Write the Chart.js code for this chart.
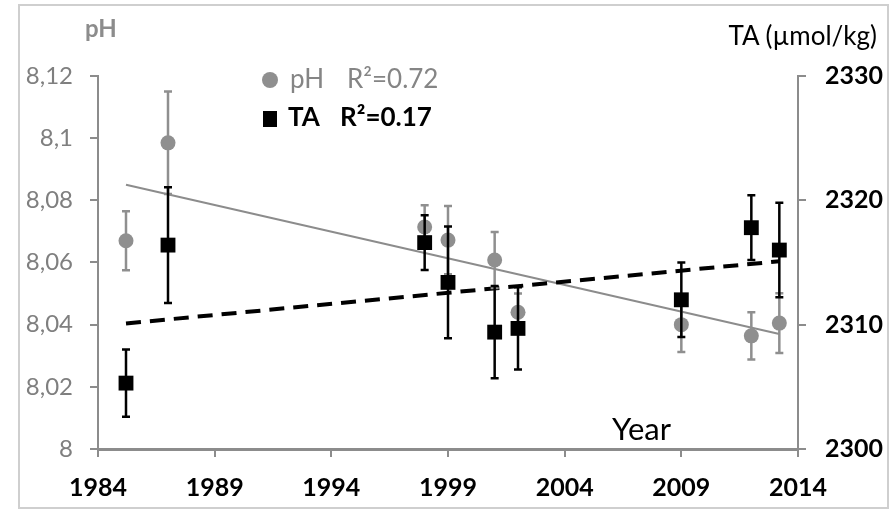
<!DOCTYPE html>
<html>
<head>
<meta charset="utf-8">
<script src="https://cdn.jsdelivr.net/npm/chart.js@4.4.1/dist/chart.umd.min.js"></script>
<style>
    html, body { margin: 0; padding: 0; background: #fff; }
    #wrap { position: relative; width: 893px; height: 511px; overflow: hidden; font-family: Lato, sans-serif; }
    #frame { position: absolute; left: 18px; top: 4px; width: 867px; height: 501px; border: 2px solid #cfcfcf; }
    canvas { position: absolute; left: 0; top: 0; }
    .lbl { position: absolute; line-height: 1; white-space: nowrap; }
    .mark { position: absolute; }
</style>
</head>
<body>
<div id="wrap">
    <div id="frame"></div>
    <canvas id="chart" width="893" height="511"></canvas>
    <div class="lbl" style="left:85px; top:16px; font-size:24px; font-weight:bold; color:#8c8c8c;">pH</div>
    <div class="lbl" style="right:16px; top:22px; font-size:26px; color:#000;">TA (µmol/kg)</div>
    <div class="mark" style="left:262px; top:72px; width:16px; height:16px; border-radius:50%; background:#8f8f8f;"></div>
    <div class="lbl" style="left:290px; top:65px; font-size:26px; color:#858585;">pH</div>
    <div class="lbl" style="left:347px; top:65px; font-size:26px; color:#858585;">R²=0.72</div>
    <div class="mark" style="left:263px; top:111px; width:14px; height:16px; background:#000;"></div>
    <div class="lbl" style="left:288px; top:103px; font-size:26px; font-weight:bold; color:#000;">TA</div>
    <div class="lbl" style="left:340px; top:103px; font-size:26px; font-weight:bold; color:#000;">R²=0.17</div>
    <div class="lbl" style="left:612px; top:413px; font-size:31px; color:#000;">Year</div>
</div>
<script>
// sampling years (x)
const years = [1985.2, 1987, 1998, 1999, 2001, 2002, 2009, 2012, 2013.2];

// pH, left axis
const phValues = [8.067, 8.0985, 8.0714, 8.0672, 8.0608, 8.044, 8.040, 8.0364, 8.0405];
const phErrors = [0.0095, 0.0165, 0.007, 0.011, 0.009, 0.006, 0.0088, 0.0076, 0.0096];

// total alkalinity, right axis
const taValues = [2305.3, 2316.4, 2316.6, 2313.4, 2309.4, 2309.7, 2312.0, 2317.8, 2316.0];
const taErrors = [2.7, 4.65, 2.2, 4.5, 3.7, 3.3, 3.0, 2.6, 3.8];

// regression line end points
const trendYears = [1985.2, 2013.2];
const phTrend = [8.085, 8.037];
const taTrend = [2310.1, 2315.1];

// axis ticks
const yearTicks = [1984, 1989, 1994, 1999, 2004, 2009, 2014];
const phTicks = [8, 8.02, 8.04, 8.06, 8.08, 8.1, 8.12];
const taTicks = [2300, 2310, 2320, 2330];

const COLORS = {
    grey: '#8f8f8f',
    axis: '#8c8c8c',
    ink: '#000000',
};

const toPoints = (xs, ys) => xs.map((x, i) => ({ x, y: ys[i] }));

const errorBars = {
    id: 'errorBars',
    beforeDatasetDraw(chart, args) {
        const ds = chart.data.datasets[args.index];
        if (!ds.errors) {
            return;
        }
        const { ctx } = chart;
        const scale = chart.scales[ds.yAxisID];
        ctx.save();
        ctx.strokeStyle = ds.errorColor;
        ctx.lineWidth = 2.5;
        args.meta.data.forEach((pt, i) => {
            const v = ds.data[i].y;
            const top = scale.getPixelForValue(v + ds.errors[i]);
            const bottom = scale.getPixelForValue(v - ds.errors[i]);
            ctx.beginPath();
            ctx.moveTo(pt.x, top);
            ctx.lineTo(pt.x, bottom);
            ctx.moveTo(pt.x - 4, top);
            ctx.lineTo(pt.x + 4, top);
            ctx.moveTo(pt.x - 4, bottom);
            ctx.lineTo(pt.x + 4, bottom);
            ctx.stroke();
        });
        ctx.restore();
    },
};

const tickFont = { family: 'Lato', size: 25, weight: 'bold' };

new Chart(document.getElementById('chart'), {
    type: 'scatter',
    data: {
        datasets: [
            {
                label: 'TA',
                data: toPoints(years, taValues),
                errors: taErrors,
                errorColor: COLORS.ink,
                yAxisID: 'y1',
                pointStyle: 'rect',
                radius: 10.5,
                backgroundColor: COLORS.ink,
                borderWidth: 0,
            },
            {
                label: 'pH',
                data: toPoints(years, phValues),
                errors: phErrors,
                errorColor: COLORS.grey,
                yAxisID: 'y',
                pointStyle: 'circle',
                radius: 7.5,
                backgroundColor: COLORS.grey,
                borderWidth: 0,
            },
            {
                type: 'line',
                label: 'TA trend',
                data: toPoints(trendYears, taTrend),
                yAxisID: 'y1',
                borderColor: COLORS.ink,
                borderWidth: 4,
                borderDash: [15, 9],
                pointRadius: 0,
            },
            {
                type: 'line',
                label: 'pH trend',
                data: toPoints(trendYears, phTrend),
                yAxisID: 'y',
                borderColor: COLORS.axis,
                borderWidth: 2,
                pointRadius: 0,
            },
        ],
    },
    options: {
        responsive: false,
        animation: false,
        layout: { padding: { top: 76, left: 0, right: 0, bottom: 0 } },
        plugins: {
            legend: { display: false },
            tooltip: { enabled: false },
        },
        scales: {
            x: {
                type: 'linear',
                min: yearTicks[0],
                max: yearTicks[yearTicks.length - 1],
                afterFit(scale) { scale.height = 62; },
                afterBuildTicks(scale) { scale.ticks = yearTicks.map((value) => ({ value })); },
                ticks: {
                    font: tickFont,
                    color: COLORS.ink,
                    padding: 16,
                    maxRotation: 0,
                    callback: (v) => String(v),
                },
                grid: { drawOnChartArea: false, tickLength: 8, color: COLORS.axis, lineWidth: 2 },
                border: { color: COLORS.axis, width: 3 },
            },
            y: {
                position: 'left',
                min: phTicks[0],
                max: phTicks[phTicks.length - 1],
                afterFit(scale) { scale.width = 98; },
                afterBuildTicks(scale) { scale.ticks = phTicks.map((value) => ({ value })); },
                ticks: {
                    font: { family: 'Lato', size: 24 },
                    color: '#7f7f7f',
                    padding: 17,
                    callback: (v) => String(Math.round(v * 100) / 100).replace('.', ','),
                },
                grid: { drawOnChartArea: false, tickLength: 8, color: COLORS.axis, lineWidth: 2 },
                border: { color: COLORS.axis, width: 2 },
            },
            y1: {
                position: 'right',
                min: taTicks[0],
                max: taTicks[taTicks.length - 1],
                afterFit(scale) { scale.width = 95; },
                afterBuildTicks(scale) { scale.ticks = taTicks.map((value) => ({ value })); },
                ticks: {
                    font: tickFont,
                    color: COLORS.ink,
                    padding: 19,
                    callback: (v) => String(v),
                },
                grid: { drawOnChartArea: false, tickLength: 8, color: COLORS.axis, lineWidth: 2 },
                border: { color: COLORS.axis, width: 2 },
            },
        },
    },
    plugins: [errorBars],
});
</script>
</body>
</html>
